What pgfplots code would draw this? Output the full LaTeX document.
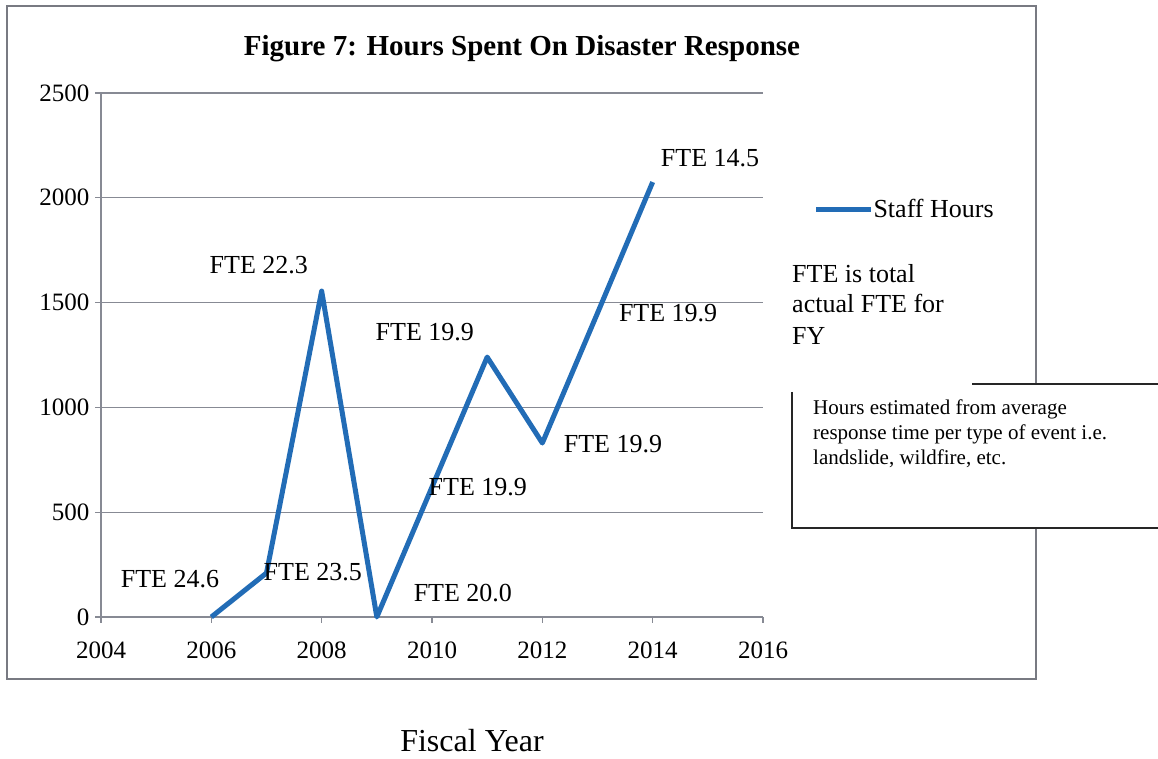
\documentclass[border=0pt]{standalone}
\usepackage{fontspec}
\setmainfont{Liberation Serif}
\usepackage{pgfplots}
\pgfplotsset{compat=1.18}
\definecolor{lineblue}{RGB}{34,108,182}
\definecolor{gridgray}{RGB}{135,138,148}
\definecolor{bordergray}{RGB}{120,122,130}
\begin{document}
\begin{tikzpicture}[x=1pt,y=1pt]
\useasboundingbox (0,0) rectangle (1158,759);
\draw[bordergray, line width=2pt] (7,753) rectangle (1036,80);
\begin{axis}[
  at={(101pt,142pt)}, anchor=south west,
  width=662pt, height=524pt, scale only axis,
  xmin=2004, xmax=2016, ymin=0, ymax=2500,
  xtick={2004,2006,...,2016}, ytick={0,500,...,2500},
  axis lines*=left,
  axis line style={gridgray, line width=1.2pt},
  ymajorgrids, grid style={gridgray, line width=1.2pt},
  tick align=outside, major tick length=6pt,
  tick style={gridgray, line width=1.2pt},
  ticklabel style={font=\fontsize{25}{29}\selectfont, black},
  xticklabel style={yshift=-15pt},
  yticklabel style={xshift=-2pt},
  /pgf/number format/assume math mode=true,
  /pgf/number format/set thousands separator={},
  clip=false,
  legend style={at={(1.076,0.7786)}, anchor=west, draw=none, fill=none,
    inner sep=0pt, font=\fontsize{26}{30}\selectfont,
    nodes={inner xsep=0pt}},
  legend image code/.code={\draw[#1] (0pt,0pt) -- (55pt,0pt);},
  label style={font=\fontsize{26}{30}\selectfont},
]
\addplot[lineblue, line width=5pt, line join=round] coordinates {
  (2006,0) (2007,210) (2008,1555) (2009,0) (2010,620)
  (2011,1240) (2012,830) (2013,1450) (2014,2075)};
\addlegendentry{Staff Hours}
\begin{scope}[every node/.style={anchor=base, inner sep=0pt, font=\fontsize{26}{30}\selectfont}]
\node at (axis cs:2005.25,143) {FTE 24.6};
\node at (axis cs:2007.84,176) {FTE 23.5};
\node at (axis cs:2006.86,1641) {FTE 22.3};
\node at (axis cs:2010.56,72) {FTE 20.0};
\node at (axis cs:2009.87,1317) {FTE 19.9};
\node at (axis cs:2010.83,582) {FTE 19.9};
\node at (axis cs:2013.28,787) {FTE 19.9};
\node at (axis cs:2014.28,1408) {FTE 19.9};
\node at (axis cs:2015.04,2147) {FTE 14.5};
\end{scope}
\end{axis}
% title
\node[anchor=base, inner sep=0pt, font=\fontsize{29}{33}\selectfont\bfseries] at (522,703) {Figure 7: Hours Spent On Disaster Response};
% note
\begin{scope}[every node/.style={anchor=base west, inner sep=0pt, font=\fontsize{26}{31}\selectfont}]
\node at (792,476) {FTE is total};
\node at (792,446) {actual FTE for};
\node at (792,414) {FY};
\end{scope}
% text box
\fill[white] (793,231) rectangle (1158,375);
\draw[black!85, line width=2pt] (792,367) -- (792,231) -- (1158,231);
\draw[black!85, line width=2pt] (972,375) -- (1158,375);
\begin{scope}[every node/.style={anchor=base west, inner sep=0pt, font=\fontsize{21}{25}\selectfont}]
\node at (813,344) {Hours estimated from average};
\node at (813,319) {response time per type of event i.e.};
\node at (813,294) {landslide, wildfire, etc.};
\end{scope}
% x label
\node[anchor=base, inner sep=0pt, font=\fontsize{32}{36}\selectfont] at (472,7) {Fiscal Year};
\end{tikzpicture}
\end{document}
